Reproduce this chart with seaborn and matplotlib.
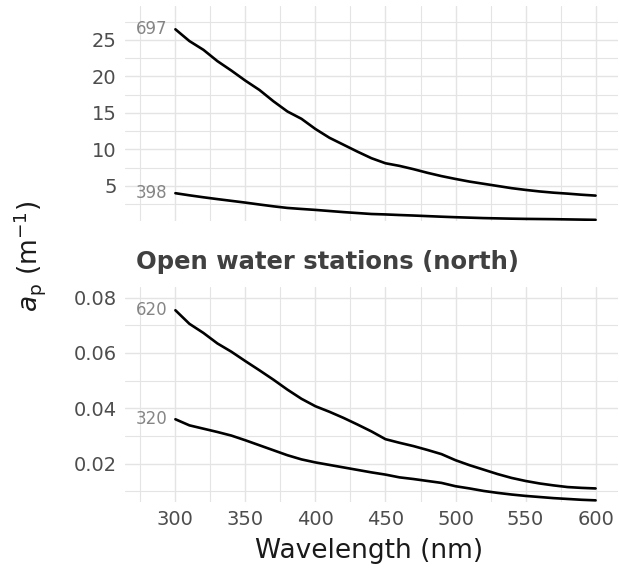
import numpy as np
import pandas as pd
import matplotlib
matplotlib.use("Agg")
import matplotlib.pyplot as plt
import seaborn as sns

# wavelengths (nm)
wavelength = list(range(300, 601, 10))

# top panel stations
st_697 = [26.46, 24.85, 23.65, 22.1, 20.8, 19.42, 18.15, 16.6, 15.2, 14.2, 12.8,
          11.6, 10.65, 9.7, 8.8, 8.11, 7.75, 7.3, 6.8, 6.35, 5.96,
          5.6, 5.3, 5.0, 4.7, 4.46, 4.25, 4.08, 3.95, 3.8, 3.68]
st_398 = [4.01, 3.72, 3.45, 3.2, 2.96, 2.72, 2.46, 2.21, 1.99, 1.85, 1.72,
          1.57, 1.42, 1.29, 1.16, 1.1, 1.02, 0.95, 0.87, 0.79, 0.72,
          0.66, 0.6, 0.56, 0.52, 0.49, 0.47, 0.45, 0.42, 0.39, 0.36]

# open water stations (north)
st_620 = [0.0754, 0.0705, 0.0672, 0.0634, 0.0604, 0.0570, 0.0537, 0.0503, 0.0467, 0.0434, 0.0407,
          0.0387, 0.0365, 0.0341, 0.0316, 0.0288, 0.0275, 0.0263, 0.0249, 0.0234, 0.0212,
          0.0194, 0.0178, 0.0162, 0.0148, 0.0137, 0.0128, 0.0121, 0.0115, 0.0112, 0.0110]
st_320 = [0.0360, 0.0338, 0.0326, 0.0314, 0.0301, 0.0284, 0.0266, 0.0248, 0.0230, 0.0215, 0.0204,
          0.0195, 0.0186, 0.0177, 0.0168, 0.0160, 0.0150, 0.0144, 0.0137, 0.0130, 0.0118,
          0.0110, 0.0101, 0.0094, 0.0088, 0.0083, 0.0079, 0.0075, 0.0072, 0.0069, 0.0067]

top = pd.DataFrame({"wavelength": wavelength * 2,
                    "ap": st_697 + st_398,
                    "station": ["697"] * len(wavelength) + ["398"] * len(wavelength)})
bottom = pd.DataFrame({"wavelength": wavelength * 2,
                       "ap": st_620 + st_320,
                       "station": ["620"] * len(wavelength) + ["320"] * len(wavelength)})

sns.set_theme(style="white")
plt.rcParams['font.family'] = ['DejaVu Sans']

grid_col = "#e4e4e4"
tick_col = "#4d4d4d"
lab_col = "#858585"

fig = plt.figure(figsize=(6.19, 5.68), dpi=100)
ax1 = fig.add_axes([0.2019, 0.6109, 0.7965, 0.3785])
ax2 = fig.add_axes([0.2019, 0.1162, 0.7965, 0.3785])


def style_panel(ax, df, ylim, major, minor):
    sns.lineplot(data=df, x="wavelength", y="ap", units="station", estimator=None,
                 color="black", linewidth=1.9, ax=ax)
    ax.set_xlim(264, 616)
    ax.set_ylim(*ylim)
    ax.set_xticks([300, 350, 400, 450, 500, 550, 600])
    ax.set_xticks([275, 325, 375, 425, 475, 525, 575], minor=True)
    ax.set_yticks(major)
    ax.set_yticks(minor, minor=True)
    ax.grid(True, which="major", color=grid_col, linewidth=1.0)
    ax.grid(True, which="minor", color=grid_col, linewidth=0.8)
    ax.set_axisbelow(True)
    for s in ax.spines.values():
        s.set_visible(False)
    ax.tick_params(which="both", length=0, labelsize=14, labelcolor=tick_col, pad=6)
    ax.set_xlabel("")
    ax.set_ylabel("")
    # station labels at start of each curve
    for st, g in df.groupby("station"):
        ax.text(294.5, g["ap"].iloc[0], st, ha="right", va="center",
                fontsize=12, color=lab_col)


style_panel(ax1, top, (0.2, 29.65), [5, 10, 15, 20, 25], [2.5, 7.5, 12.5, 17.5, 22.5, 27.5])
ax1.tick_params(axis="x", labelbottom=False)
style_panel(ax2, bottom, (0.0061, 0.0838), [0.02, 0.04, 0.06, 0.08], [0.01, 0.03, 0.05, 0.07])
ax2.set_yticklabels(["0.02", "0.04", "0.06", "0.08"])

fig.text(136 / 619, 1 - 262 / 568, "Open water stations (north)", ha="left", va="center",
         fontsize=17.5, fontweight="bold", color="#404040")
fig.text(369 / 619, 1 - 551 / 568, "Wavelength (nm)", ha="center", va="center",
         fontsize=19, color="#1a1a1a")
fig.text(30 / 619, 1 - 256 / 568, r"$a_{\mathrm{p}}$ (m$^{-1}$)", ha="center", va="center",
         rotation=90, fontsize=19, color="#1a1a1a")

fig.savefig("out.png", dpi=100)
